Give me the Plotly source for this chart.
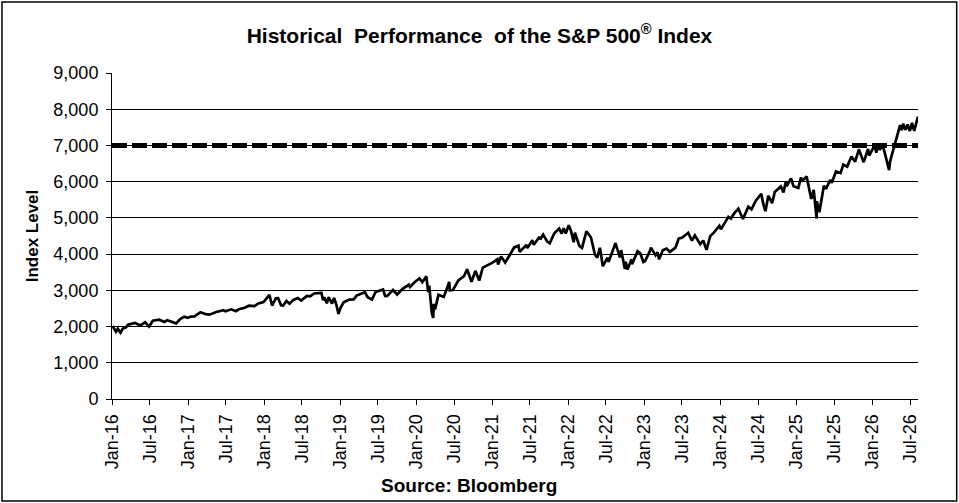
import plotly.graph_objects as go

# ------- S&P 500 index level (roughly semi-monthly) ------- #

dates = [
    # 2016
    "2016-01-04", "2016-01-12", "2016-01-20", "2016-01-29", "2016-02-11", "2016-02-22", "2016-03-08",
    "2016-03-18", "2016-04-01", "2016-04-20", "2016-05-06", "2016-05-19", "2016-06-08", "2016-06-27",
    "2016-07-15", "2016-08-15", "2016-09-09", "2016-09-22", "2016-10-14", "2016-11-04", "2016-11-25",
    "2016-12-13", "2016-12-30",
    # 2017
    "2017-01-13", "2017-01-31", "2017-02-15", "2017-03-01", "2017-03-27", "2017-04-13", "2017-05-16",
    "2017-06-19", "2017-06-29", "2017-07-27", "2017-08-18", "2017-09-01", "2017-09-29", "2017-10-20",
    "2017-11-15", "2017-12-04", "2017-12-29",
    # 2018
    "2018-01-12", "2018-01-26", "2018-02-08", "2018-02-26", "2018-03-09", "2018-03-23", "2018-04-02",
    "2018-04-18", "2018-05-03", "2018-05-21", "2018-06-12", "2018-06-28", "2018-07-25", "2018-08-10",
    "2018-08-29", "2018-09-20", "2018-10-03", "2018-10-11", "2018-10-17", "2018-10-29", "2018-11-07",
    "2018-11-23", "2018-12-03", "2018-12-14", "2018-12-24",
    # 2019
    "2019-01-04", "2019-01-18", "2019-02-14", "2019-03-07", "2019-03-21", "2019-04-16", "2019-04-30",
    "2019-05-13", "2019-06-03", "2019-06-20", "2019-07-15", "2019-07-26", "2019-08-05", "2019-08-14",
    "2019-09-12", "2019-10-02", "2019-10-28", "2019-11-27", "2019-12-03", "2019-12-27",
    # 2020
    "2020-01-17", "2020-01-31", "2020-02-19", "2020-02-28", "2020-03-04", "2020-03-12", "2020-03-16",
    "2020-03-23", "2020-03-26", "2020-04-01", "2020-04-17", "2020-05-13", "2020-06-08", "2020-06-11",
    "2020-06-26", "2020-07-22", "2020-08-18", "2020-09-02", "2020-09-23", "2020-10-12", "2020-10-30",
    "2020-11-16", "2020-12-31",
    # 2021
    "2021-01-25", "2021-01-29", "2021-02-12", "2021-03-04", "2021-03-26", "2021-04-16", "2021-05-07",
    "2021-05-12", "2021-06-14", "2021-06-18", "2021-07-12", "2021-07-19", "2021-08-16", "2021-08-19",
    "2021-09-02", "2021-09-21", "2021-10-04", "2021-10-26", "2021-11-18", "2021-11-30", "2021-12-10",
    "2021-12-20",
    # 2022
    "2022-01-03", "2022-01-13", "2022-01-27", "2022-02-02", "2022-02-23", "2022-03-08", "2022-03-29",
    "2022-04-20", "2022-05-09", "2022-05-20", "2022-06-02", "2022-06-16", "2022-07-08", "2022-07-14",
    "2022-08-16", "2022-09-06", "2022-09-12", "2022-09-30", "2022-10-04", "2022-10-12", "2022-11-01",
    "2022-11-03", "2022-11-30", "2022-12-13", "2022-12-28",
    # 2023
    "2023-01-05", "2023-01-27", "2023-02-02", "2023-02-24", "2023-03-06", "2023-03-13", "2023-03-31",
    "2023-04-18", "2023-05-04", "2023-05-31", "2023-06-15", "2023-07-03", "2023-07-31", "2023-08-18",
    "2023-09-01", "2023-09-27", "2023-10-11", "2023-10-27", "2023-11-14", "2023-12-01", "2023-12-28",
    # 2024
    "2024-01-04", "2024-01-19", "2024-02-09", "2024-02-21", "2024-03-08", "2024-03-28", "2024-04-19",
    "2024-05-15", "2024-05-30", "2024-06-20", "2024-07-16", "2024-07-25", "2024-08-05", "2024-08-19",
    "2024-09-06", "2024-09-19", "2024-10-18", "2024-10-31", "2024-11-11", "2024-11-15", "2024-12-06",
    "2024-12-18",
    # 2025
    "2025-01-10", "2025-01-23", "2025-01-27", "2025-02-19", "2025-03-03", "2025-03-13", "2025-03-25",
    "2025-04-04", "2025-04-08", "2025-04-09", "2025-04-21", "2025-05-13", "2025-05-23", "2025-06-12",
    "2025-06-20", "2025-07-10", "2025-08-01", "2025-08-14", "2025-09-02", "2025-09-22", "2025-10-10",
    "2025-10-28", "2025-11-20", "2025-12-11", "2025-12-17",
    # 2026
    "2026-01-06", "2026-01-12", "2026-01-20", "2026-01-28", "2026-02-05", "2026-02-18", "2026-02-27",
    "2026-03-09", "2026-03-22", "2026-03-27", "2026-04-07", "2026-04-20", "2026-05-01", "2026-05-14",
    "2026-05-22", "2026-05-29", "2026-06-09", "2026-06-19", "2026-06-30", "2026-07-10", "2026-07-21",
    "2026-07-30", "2026-08-08",
]

levels = [
    # 2016
    2012, 1939, 1859, 1940, 1829, 1946, 1979, 2049, 2073, 2102, 2057, 2040, 2119, 2001,
    2162, 2190, 2128, 2177, 2133, 2085, 2213, 2271, 2239,
    # 2017
    2275, 2279, 2349, 2396, 2342, 2329, 2400, 2453, 2419, 2475, 2425, 2476, 2519, 2575,
    2564, 2639, 2674,
    # 2018
    2786, 2873, 2581, 2780, 2786, 2588, 2582, 2708, 2630, 2733, 2786, 2716, 2846, 2833,
    2914, 2931, 2926, 2728, 2810, 2641, 2814, 2633, 2790, 2600, 2351,
    # 2019
    2532, 2670, 2746, 2749, 2855, 2907, 2946, 2812, 2744, 2954, 3014, 3026, 2844, 2840,
    3009, 2887, 3039, 3154, 3093, 3240,
    # 2020
    3330, 3225, 3386, 2954, 3130, 2481, 2386, 2237, 2630, 2470, 2875, 2820, 3232, 3002,
    3009, 3276, 3390, 3580, 3237, 3534, 3270, 3627, 3756,
    # 2021
    3855, 3714, 3934, 3768, 3975, 4185, 4233, 4063, 4255, 4166, 4384, 4258, 4480, 4405,
    4537, 4354, 4300, 4575, 4704, 4567, 4712, 4568,
    # 2022
    4796, 4659, 4326, 4589, 4225, 4170, 4631, 4459, 3991, 3901, 4176, 3666, 3899, 3790,
    4305, 3908, 4110, 3586, 3791, 3577, 3856, 3720, 4080, 4019, 3783,
    # 2023
    3808, 4071, 4179, 3970, 4048, 3855, 4109, 4155, 4061, 4180, 4425, 4455, 4589, 4370,
    4515, 4274, 4377, 4117, 4496, 4594, 4783,
    # 2024
    4688, 4840, 5027, 4981, 5124, 5254, 4967, 5308, 5235, 5473, 5667, 5399, 5186, 5608,
    5408, 5713, 5865, 5705, 6001, 5870, 6090, 5872,
    # 2025
    5827, 6118, 6012, 6144, 5849, 5521, 5776, 5074, 4982, 5457, 5158, 5886, 5802, 6045,
    5968, 6280, 6238, 6469, 6415, 6693, 6552, 6890, 6538, 6901, 6721,
    # 2026
    6944, 6980, 6800, 7010, 6880, 7000, 6850, 6650, 6320, 6560, 6800, 7100, 7350, 7560,
    7420, 7600, 7430, 7580, 7400, 7620, 7400, 7620, 7800,
]

reference_level = 7000
x_range = ["2016-01-01", "2026-08-08"]
y_ticks = list(range(0, 9001, 1000))
y_tick_labels = [f"{v:,}" for v in y_ticks]
x_tick_dates = [f"{y}-{m:02d}-01" for y in range(2016, 2027) for m in (1, 7)]
x_tick_labels = [f"{'Jan' if m == 1 else 'Jul'}-{str(y)[2:]}" for y in range(2016, 2027) for m in (1, 7)]

FONT = "Liberation Sans, Arial, sans-serif"

fig = go.Figure()

fig.add_trace(go.Scatter(x=dates, y=levels, mode="lines",
                         line=dict(color="black", width=2.7),
                         hoverinfo="skip", showlegend=False))

# dashed 7,000 level
fig.add_shape(type="line", xref="paper", yref="y", x0=0, x1=1,
              y0=reference_level, y1=reference_level,
              line=dict(color="black", width=5, dash="15px,5px"))

# frame around the whole chart
fig.add_shape(type="rect", xref="paper", yref="paper",
              x0=-0.1365, x1=1.048, y0=-0.313, y1=1.218,
              line=dict(color="black", width=1.5))

fig.update_layout(
    width=959, height=503,
    margin=dict(l=112, r=41, t=73, b=104),
    paper_bgcolor="white", plot_bgcolor="white",
    font=dict(family=FONT, color="black"),
    title=dict(text="<b>Historical\u00a0 Performance\u00a0 of the S&amp;P 500<sup>®</sup> Index</b>",
               font=dict(size=21, family=FONT, color="black"),
               x=0.5, xanchor="center", y=0.93, yanchor="middle"),
)

fig.update_xaxes(
    type="date", range=x_range,
    tickmode="array", tickvals=x_tick_dates, ticktext=x_tick_labels,
    tickangle=-90, tickfont=dict(size=18), ticklabelstandoff=2,
    ticks="outside", ticklen=5, tickcolor="black",
    showline=True, linecolor="black", linewidth=1,
    showgrid=False, zeroline=False,
)

fig.update_yaxes(
    range=[0, 9000],
    tickmode="array", tickvals=y_ticks, ticktext=y_tick_labels,
    tickfont=dict(size=18), ticklabelstandoff=4,
    ticks="outside", ticklen=5, tickcolor="black",
    showline=True, linecolor="black", linewidth=1,
    showgrid=True, gridcolor="black", gridwidth=1,
    zeroline=False,
    title=dict(text="<b>Index Level</b>", font=dict(size=17), standoff=10),
)

fig.add_annotation(text="<b>Source: Bloomberg</b>", xref="paper", yref="paper",
                   x=0.443, y=-0.265, xanchor="center", yanchor="middle",
                   showarrow=False, font=dict(size=19, family=FONT, color="black"))

fig.write_html("out.html", config={"displayModeBar": False},
               post_script="document.body.style.margin = '0';")
